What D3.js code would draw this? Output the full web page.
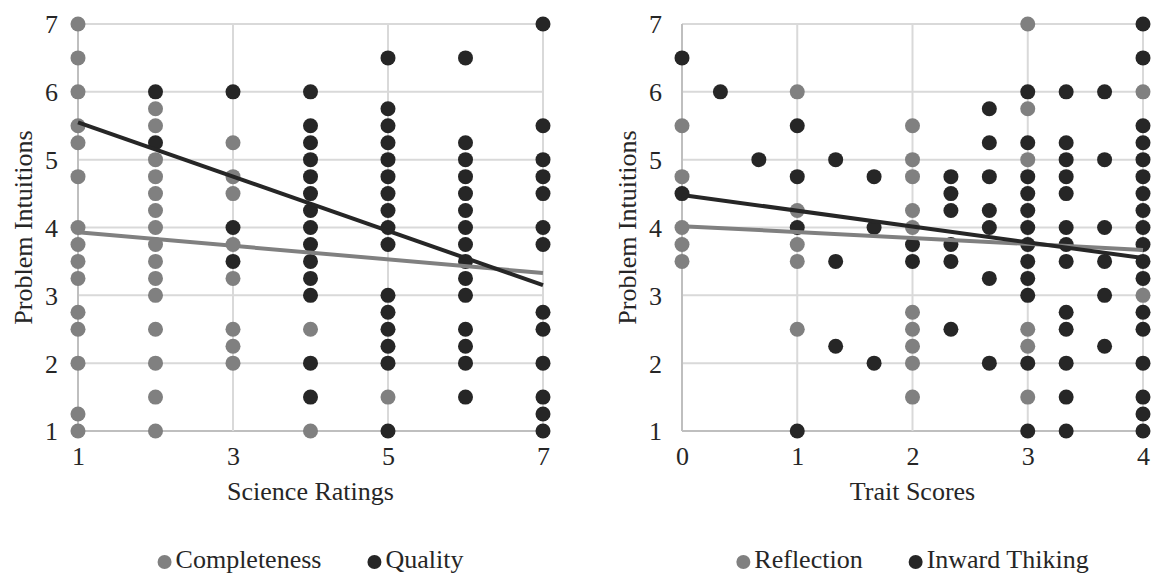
<!DOCTYPE html>
<html>
<head>
<meta charset="utf-8">
<script src="https://cdn.jsdelivr.net/npm/d3@7"></script>
<style>
  body { margin: 0; background: #fff; }
  svg text { font-family: "Liberation Serif", "Times New Roman", Times, "DejaVu Serif", serif; }
</style>
</head>
<body>
<div id="chart"></div>
<script>
// ---- data ----
var yTicks = [1, 2, 3, 4, 5, 6, 7];
var scienceTicks = [1, 3, 5, 7];
var traitTicks = [0, 1, 2, 3, 4];

// each entry: [x, [y values at that x]]
var completeness = [
  [1, [7, 6.5, 6, 5.5, 5.25, 4.75, 4, 3.75, 3.5, 3.25, 2.75, 2.5, 2, 1.25, 1]],
  [2, [5.75, 5.5, 5, 4.75, 4.5, 4.25, 4, 3.75, 3.5, 3.25, 3, 2.5, 2, 1.5, 1]],
  [3, [5.25, 4.75, 4.5, 3.75, 3.25, 2.5, 2.25, 2]],
  [4, [2.5, 1]],
  [5, [1.5]]
];
var quality = [
  [2, [6, 5.25]],
  [3, [6, 4, 3.5]],
  [4, [6, 5.5, 5.25, 5, 4.75, 4.5, 4.25, 4, 3.75, 3.5, 3.25, 3, 2, 1.5]],
  [5, [6.5, 5.75, 5.5, 5.25, 5, 4.75, 4.5, 4.25, 4, 3.75, 3, 2.75, 2.5, 2.25, 2, 1]],
  [6, [6.5, 5.25, 5, 4.75, 4.5, 4.25, 4, 3.75, 3.5, 3.25, 3, 2.5, 2.25, 2, 1.5]],
  [7, [7, 5.5, 5, 4.75, 4.5, 4, 3.75, 2.75, 2.5, 2, 1.5, 1.25, 1]]
];
var reflection = [
  [0, [5.5, 4.75, 4, 3.75, 3.5]],
  [1, [6, 4.25, 3.75, 3.5, 2.5]],
  [2, [5.5, 5, 4.75, 4.25, 4, 2.75, 2.5, 2.25, 2, 1.5]],
  [3, [7, 5.75, 5, 2.5, 2.25, 1.5]],
  [4, [6, 3]]
];
var inward = [
  [0, [6.5, 4.5]],
  [1/3, [6]],
  [2/3, [5]],
  [1, [5.5, 4.75, 4, 1]],
  [4/3, [5, 3.5, 2.25]],
  [5/3, [4.75, 4, 2]],
  [2, [3.75, 3.5]],
  [7/3, [4.75, 4.5, 4.25, 3.75, 3.5, 2.5]],
  [8/3, [5.75, 5.25, 4.75, 4.25, 4, 3.25, 2]],
  [3, [6, 5.25, 4.75, 4.5, 4.25, 4, 3.75, 3.5, 3.25, 3, 2, 1]],
  [10/3, [6, 5.25, 5, 4.75, 4.5, 4, 3.75, 3.5, 2.75, 2.5, 2, 1.5, 1]],
  [11/3, [6, 5, 4, 3.5, 3, 2.25]],
  [4, [7, 6.5, 5.5, 5.25, 5, 4.75, 4.5, 4.25, 4, 3.75, 3.5, 3.25, 2.75, 2.5, 2, 1.5, 1.25, 1]]
];

// linear trendlines, endpoints [x, y]
var completenessTrend = [[1, 3.93], [7, 3.33]];
var qualityTrend = [[1, 5.55], [7, 3.15]];
var reflectionTrend = [[0, 4.02], [4, 3.67]];
var inwardTrend = [[0, 4.48], [4, 3.55]];

var GRAY = '#808080', DARK = '#262626';
var FONT = '"Liberation Serif", "Times New Roman", Times, "DejaVu Serif", serif';

var svg = d3.select('#chart').append('svg')
  .attr('width', 1153)
  .attr('height', 573);

function flatten(cols) {
  var out = [];
  cols.forEach(function(c) { c[1].forEach(function(v) { out.push([c[0], v]); }); });
  return out;
}

var ScatterPanel = function(opts) {
  this.left = opts.left;
  this.right = opts.right;
  this.top = 24;
  this.bottom = 431;
  this.xDomain = opts.xDomain;
  this.xTicks = opts.xTicks;
  this.xTitle = opts.xTitle;
  this.series = opts.series;
  this.plot = svg.append('g');
  this.draw();
}

ScatterPanel.prototype.draw = function() {
  this.x = d3.scaleLinear().domain(this.xDomain).range([this.left, this.right]);
  this.y = d3.scaleLinear().domain([1, 7]).range([this.bottom, this.top]);
  this.addGrid();
  this.addAxes();
  this.addDots();
  this.addTrends();
  this.addLegend();
  this.plot.selectAll('text').attr('font-family', FONT);
}

ScatterPanel.prototype.addGrid = function() {
  var self = this;
  var g = this.plot.append('g');
  g.selectAll('line.hgrid')
    .data(yTicks)
    .enter().append('line')
    .attr('x1', this.left).attr('x2', this.right)
    .attr('y1', function(d) { return self.y(d); })
    .attr('y2', function(d) { return self.y(d); })
    .attr('stroke', function(d) { return d === 1 ? '#bfbfbf' : '#d9d9d9'; })
    .attr('stroke-width', 2);
  g.selectAll('line.vgrid')
    .data(this.xTicks)
    .enter().append('line')
    .attr('y1', this.top).attr('y2', this.bottom)
    .attr('x1', function(d) { return self.x(d); })
    .attr('x2', function(d) { return self.x(d); })
    .attr('stroke', function(d, i) { return i === 0 ? '#bfbfbf' : '#d9d9d9'; })
    .attr('stroke-width', 2);
}

ScatterPanel.prototype.addAxes = function() {
  var xAxis = d3.axisBottom(this.x).tickValues(this.xTicks).tickSize(0).tickFormat(d3.format('d'));
  var yAxis = d3.axisLeft(this.y).tickValues(yTicks).tickSize(0).tickFormat(d3.format('d'));

  var gx = this.plot.append('g')
    .attr('transform', 'translate(0,' + this.bottom + ')')
    .call(xAxis);
  var gy = this.plot.append('g')
    .attr('transform', 'translate(' + this.left + ',0)')
    .call(yAxis);

  this.plot.selectAll('.domain').remove();
  [gx, gy].forEach(function(g) {
    g.attr('font-family', null).attr('font-size', null);
    g.selectAll('text').attr('fill', '#262626').style('font-size', '26px');
  });
  gx.selectAll('text').attr('dy', null).attr('y', 34);
  gy.selectAll('text').attr('x', -20).attr('dy', '0.34em');

  this.plot.append('text')
    .attr('x', (this.left + this.right) / 2)
    .attr('y', 500)
    .attr('text-anchor', 'middle')
    .attr('fill', '#262626')
    .style('font-size', '26px')
    .text(this.xTitle);

  this.plot.append('text')
    .attr('transform', 'translate(' + (this.left - 46) + ',' + ((this.top + this.bottom) / 2) + ') rotate(-90)')
    .attr('text-anchor', 'middle')
    .attr('fill', '#262626')
    .style('font-size', '26px')
    .text('Problem Intuitions');
}

ScatterPanel.prototype.addDots = function() {
  var self = this;
  this.series.forEach(function(s) {
    self.plot.append('g').selectAll('circle')
      .data(flatten(s.points))
      .enter().append('circle')
      .attr('cx', function(d) { return self.x(d[0]); })
      .attr('cy', function(d) { return self.y(d[1]); })
      .attr('r', 7.5)
      .attr('fill', s.color);
  });
}

ScatterPanel.prototype.addTrends = function() {
  var self = this;
  var line = d3.line()
    .x(function(d) { return self.x(d[0]); })
    .y(function(d) { return self.y(d[1]); });
  this.series.forEach(function(s) {
    self.plot.append('path')
      .attr('d', line(s.trend))
      .attr('fill', 'none')
      .attr('stroke', s.color)
      .attr('stroke-width', 4);
  });
}

ScatterPanel.prototype.addLegend = function() {
  var legend = this.plot.append('g');
  var xPos = 0;
  this.series.forEach(function(s, i) {
    var item = legend.append('g').attr('transform', 'translate(' + xPos + ',0)');
    item.append('circle').attr('cx', 7).attr('cy', -6).attr('r', 7).attr('fill', s.color);
    var t = item.append('text')
      .attr('x', 18)
      .attr('fill', '#262626')
      .attr('font-family', FONT)
      .style('font-size', '26px')
      .text(s.name);
    xPos += 18 + t.node().getComputedTextLength() + 46;
  });
  var total = xPos - 46;
  var start = (this.left + this.right) / 2 - total / 2;
  legend.attr('transform', 'translate(' + start + ',568)');
}

new ScatterPanel({
  left: 78, right: 543,
  xDomain: [1, 7], xTicks: scienceTicks, xTitle: 'Science Ratings',
  series: [
    { name: 'Completeness', color: GRAY, points: completeness, trend: completenessTrend },
    { name: 'Quality', color: DARK, points: quality, trend: qualityTrend }
  ]
});

new ScatterPanel({
  left: 682, right: 1143,
  xDomain: [0, 4], xTicks: traitTicks, xTitle: 'Trait Scores',
  series: [
    { name: 'Reflection', color: GRAY, points: reflection, trend: reflectionTrend },
    { name: 'Inward Thiking', color: DARK, points: inward, trend: inwardTrend }
  ]
});
</script>
</body>
</html>
